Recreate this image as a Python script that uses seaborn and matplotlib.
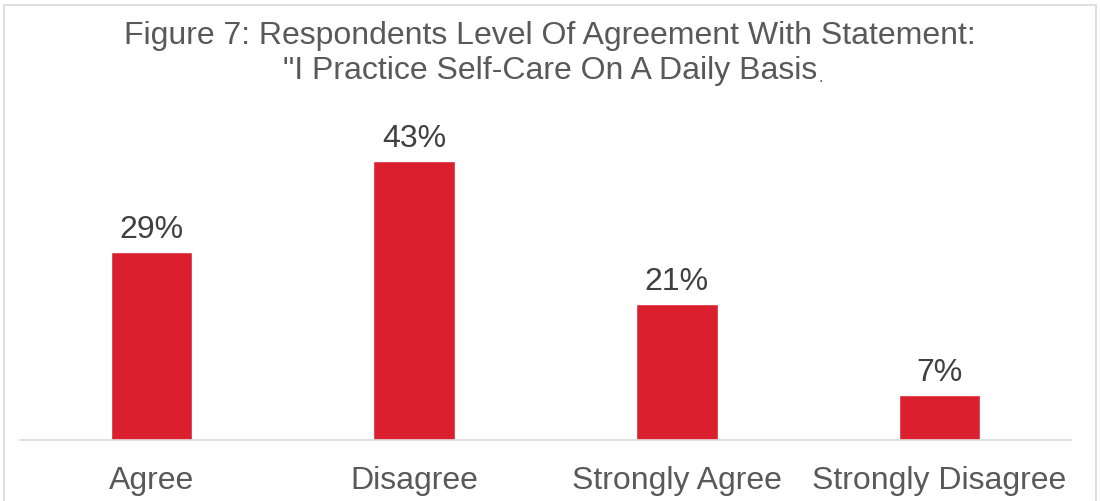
import matplotlib
matplotlib.use("Agg")
import matplotlib.pyplot as plt
from matplotlib.patches import Rectangle
import seaborn as sns
import pandas as pd

categories = ["Agree", "Disagree", "Strongly Agree", "Strongly Disagree"]
percentages = [29, 43, 21, 7]
value_labels = ["29%", "43%", "21%", "7%"]
title_line1 = "Figure 7: Respondents Level Of Agreement With Statement:"
title_line2 = "\"I Practice Self-Care On A Daily Basis"

sns.set_theme(style="white")
plt.rcParams["font.family"] = ["Liberation Sans", "DejaVu Sans"]

W, H = 1100, 501
fig = plt.figure(figsize=(W / 100, H / 100), dpi=100)
fig.patch.set_facecolor("white")

# thin frame around the chart area
fig.patches.append(Rectangle((4 / W, -0.05), 1092 / W, 1.05 - 5 / H,
                             transform=fig.transFigure, fill=False,
                             edgecolor="#d9d9d9", linewidth=1.2))

ax = fig.add_axes([20 / W, (H - 440) / H, 1051 / W, 324.5 / H])
df = pd.DataFrame({"category": categories, "pct": percentages})
sns.barplot(data=df, x="category", y="pct", color="#DA1F2E", saturation=1,
            width=0.31, ax=ax)

ax.set_xlim(-0.5, 3.5)
ax.set_ylim(0, 50)
ax.set_xlabel("")
ax.set_ylabel("")
ax.set_yticks([])
for s in ["top", "right", "left"]:
    ax.spines[s].set_visible(False)
ax.spines["bottom"].set_color("#d9d9d9")
ax.spines["bottom"].set_linewidth(1.2)
ax.tick_params(axis="x", length=0, pad=19, labelsize=23, labelcolor="#595959")

for i, (v, lab) in enumerate(zip(percentages, value_labels)):
    ax.annotate(lab, (i, v), xytext=(0, 5), textcoords="offset points",
                ha="center", va="bottom", fontsize=23, color="#404040")

fig.text(0.5, 1 - 36 / H, title_line1, ha="center", va="center",
         fontsize=23, color="#595959")
t2 = fig.text(0.5, 1 - 71 / H, title_line2, ha="center", va="center",
              fontsize=23, color="#595959")
fig.canvas.draw()
bb = t2.get_window_extent(fig.canvas.get_renderer())
fig.text((bb.x1 + 1) / W, bb.y0 / H + 4 / H, ".", ha="left", va="baseline",
         fontsize=12, color="#595959")

fig.savefig("out.png", dpi=100)
